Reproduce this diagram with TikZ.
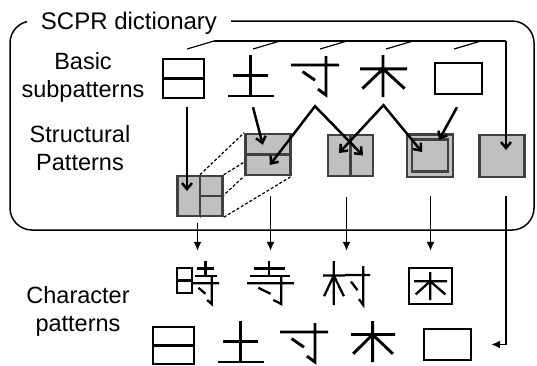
\documentclass[tikz,border=0pt]{standalone}
\usepackage{fontspec}
\setmainfont{Liberation Sans}
\usetikzlibrary{arrows.meta,backgrounds}
\definecolor{patgray}{RGB}{192,192,192}
\definecolor{patedge}{RGB}{64,64,64}

\newcommand{\patRi}[4]{\begin{scope}[shift={(#1,#2)},xscale=#3,yscale=#4]
    \draw (0,0) rectangle (1,1) (0,0.5) -- (1,0.5);
\end{scope}}
\newcommand{\patTu}[4]{\begin{scope}[shift={(#1,#2)},xscale=#3,yscale=#4]
    \draw (0.11,0.49) -- (0.87,0.49) (0,1) -- (1,1) (0.48,0) -- (0.48,1);
\end{scope}}
\newcommand{\patSun}[4]{\begin{scope}[shift={(#1,#2)},xscale=#3,yscale=#4]
    \draw (0,0.23) -- (1,0.23) (0.73,0) -- (0.73,1) -- (0.56,0.85) (0.24,0.4) -- (0.5,0.62);
\end{scope}}
\newcommand{\patKi}[4]{\begin{scope}[shift={(#1,#2)},xscale=#3,yscale=#4]
    \draw (0,0.33) -- (1,0.33) (0.49,0) -- (0.49,1) (0.05,0.8) -- (0.49,0.33) -- (0.95,0.8);
\end{scope}}
\newcommand{\patKou}[4]{\begin{scope}[shift={(#1,#2)},xscale=#3,yscale=#4]
    \draw (0,0) rectangle (1,1);
\end{scope}}

\begin{document}
\begin{tikzpicture}[x=1pt,y=-1pt,
    dictframe/.style={draw, line width=1.5pt, rounded corners=22pt, minimum width=524pt, minimum height=209pt, inner sep=0pt},
    titletext/.style={fill=white, inner xsep=14pt, inner ysep=3pt, font=\fontsize{24}{28}\selectfont},
    lbltext/.style={align=center, font=\fontsize{23.5}{27.5}\selectfont},
    patbox/.style={inner sep=0pt},
    structbox/.style={draw=patedge, fill=patgray, line width=2.5pt, minimum width=45pt, minimum height=41pt, inner sep=0pt},
    splitline/.style={draw=patedge, line width=2.5pt},
    dashline/.style={line width=1.2pt, dash pattern=on 3pt off 2pt},
    busline/.style={line width=1.2pt},
    bigarrow/.style={line width=2.5pt, -{Straight Barb[length=6pt,width=10pt]}},
    twoarrow/.style={line width=2.5pt, {Straight Barb[length=6pt,width=10pt]}-{Straight Barb[length=6pt,width=10pt]}},
    thinarrow/.style={line width=1.5pt, -{Latex[length=9pt,width=8pt]}}]
    \useasboundingbox (0,0) rectangle (537,365);

    \node[dictframe] (dict) at (272,125.5) {};
    \node[titletext, anchor=base] (dicttitle) at (129,29) {SCPR dictionary};

    \node[lbltext, anchor=base] (basiclbl) at (83,97) {Basic\\subpatterns};
    \node[lbltext, anchor=base] (structlbl) at (80,170) {Structural\\Patterns};
    \node[lbltext, anchor=base] (charlbl) at (78,331) {Character\\patterns};

    \node[patbox, minimum width=41pt, minimum height=39pt] (ri) at (183.5,78.5) {};
    \node[patbox, minimum width=46pt, minimum height=41pt] (tu) at (251,75.5) {};
    \node[patbox, minimum width=48pt, minimum height=39pt] (sun) at (315,75.5) {};
    \node[patbox, minimum width=47pt, minimum height=42pt] (ki) at (383.5,76) {};
    \node[patbox, minimum width=47pt, minimum height=31pt] (kou) at (458.5,78.5) {};
    \begin{scope}[line width=2.9pt]
        \patRi{163}{59}{41}{39}
        \patTu{228}{55}{46}{41}
        \patSun{291}{56}{48}{39}
        \patKi{360}{55}{47}{42}
        \patKou{435}{63}{47}{31}
    \end{scope}

    \node[structbox, minimum height=40pt] (sqA) at (200,196) {};
    \node[structbox] (sqB) at (267.8,154.5) {};
    \node[structbox] (sqC) at (350.5,155.5) {};
    \node[structbox, minimum width=46pt, minimum height=42.5pt] (sqD) at (430,155.7) {};
    \node[structbox, minimum width=36pt, minimum height=32pt] (sqDin) at (sqD.center) {};
    \node[structbox, minimum height=42pt] (sqE) at (502,156) {};
    \draw[splitline] (sqA.north) -- (sqA.south) (sqA.center) -- (sqA.east);
    \draw[splitline] (sqB.west) -- (sqB.east);
    \draw[splitline] (sqC.north) -- (sqC.south);
    \begin{scope}[on background layer]
        \draw[dashline] (sqA.north) -- (sqB.north west) (sqA.north east) -- (sqB.north east)
            (sqA.south) -- (sqB.south west) (sqA.south east) -- (sqB.south east);
    \end{scope}

    \coordinate (busL) at (214,41);
    \coordinate (busR) at (506,41);
    \draw[busline] (busL) -- (busR);
    \foreach \tx in {214,280,347,413,481}
        \draw[busline] (\tx,41) -- ++(-27,8);
    \draw[bigarrow, shorten >=6pt] (busR) -- (busR |- sqE.center);

    \coordinate (sunTop) at ([yshift=-11pt]sun.south);
    \coordinate (kiTop) at ([yshift=-8pt]ki.south);
    \draw[bigarrow] ([xshift=3.5pt,yshift=-9pt]ri.south) -- ([xshift=-13pt,yshift=5pt]sqA.center);
    \draw[bigarrow] ([xshift=2pt,yshift=-11pt]tu.south) -- ([xshift=-5pt,yshift=-12pt]sqB.north);
    \draw[twoarrow] ([xshift=2pt,yshift=-10.5pt]sqB.center) -- (sunTop) -- ([xshift=12.5pt]sqC.center);
    \draw[twoarrow] ([xshift=-11.5pt,yshift=2.5pt]sqC.center) -- (kiTop) -- ([xshift=-8pt,yshift=3.7pt]sqD.center);
    \draw[bigarrow] ([xshift=-1.5pt,yshift=-13pt]kou.south) -- ([xshift=9pt,yshift=15.7pt]sqD.center);

    \node[patbox, minimum width=43pt, minimum height=44pt] (chA) at (197.5,283) {};
    \node[patbox, minimum width=47pt, minimum height=44pt] (chB) at (270.5,283) {};
    \node[patbox, minimum width=47pt, minimum height=44pt] (chC) at (346.5,283) {};
    \node[patbox, minimum width=43pt, minimum height=44pt] (chD) at (430.5,283) {};
    \begin{scope}[line width=2.3pt]
        \patRi{177}{268}{15}{25}
        \patTu{195}{261}{22}{15}
        \patSun{192}{277}{27}{27}
        \patTu{250}{261}{40}{15}
        \patSun{247}{277}{47}{27}
        \patKi{323}{261}{22}{44}
        \patSun{345}{266}{25}{39}
        \patKou{409}{268}{43}{36}
        \patKi{414}{272}{33}{28}
    \end{scope}
    \draw[thinarrow, shorten <=6pt, shorten >=10pt] (sqA.south -| chA.north) -- (chA.north);
    \draw[thinarrow, shorten <=20pt, shorten >=10pt] (sqB.south -| chB.north) -- (chB.north);
    \draw[thinarrow, shorten <=20pt, shorten >=10pt] (sqC.south -| chC.north) -- (chC.north);
    \draw[thinarrow, shorten <=18pt, shorten >=10pt] (sqD.south -| chD.north) -- (chD.north);

    \node[patbox, minimum width=47pt, minimum height=31pt] (kouB) at (447.5,344.5) {};
    \begin{scope}[line width=2.9pt]
        \patRi{153}{327}{41}{37}
        \patTu{218}{321}{46}{41}
        \patSun{280}{323}{48}{39}
        \patKi{351}{321}{44}{41}
        \patKou{424}{329}{47}{31}
    \end{scope}
    \draw[thinarrow, shorten <=18pt, shorten >=20pt] ([xshift=4pt]sqE.south) |- (kouB.east);
\end{tikzpicture}
\end{document}
